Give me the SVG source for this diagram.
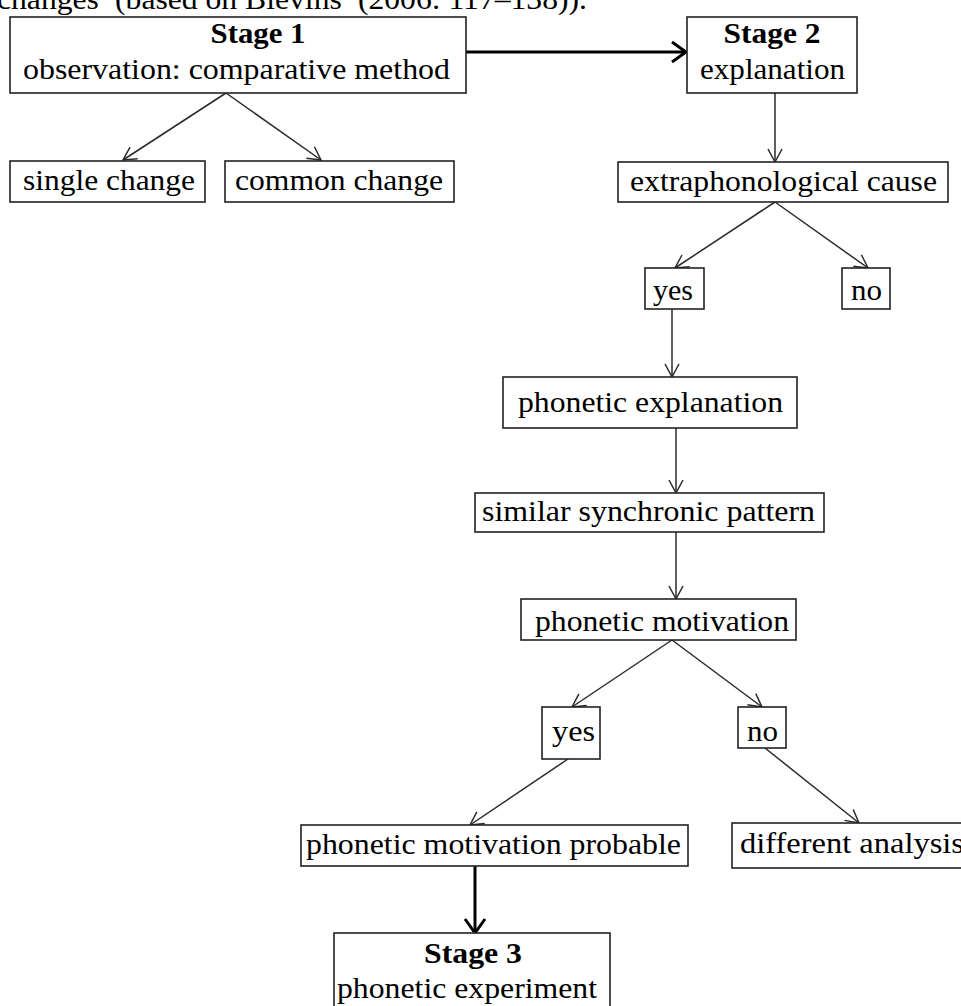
<svg xmlns="http://www.w3.org/2000/svg" width="961" height="1006" viewBox="0 0 961 1006">
<style>
text{font-family:"Liberation Serif","Times New Roman",serif;font-size:30px;fill:#000}
.b{font-weight:bold}
.c{text-anchor:middle}
.box{fill:#fff;stroke:#222;stroke-width:1.6}
.thin{stroke:#2a2a2a;stroke-width:1.5;fill:none;marker-end:url(#ah)}
.thick{stroke:#000;stroke-width:3;fill:none;marker-end:url(#ahb)}
</style>
<defs>
<marker id="ah" markerUnits="userSpaceOnUse" viewBox="-1 -1 18 18" refX="15" refY="8" markerWidth="18" markerHeight="18" orient="auto">
<path d="M2,1 L15,8 L2,15" fill="none" stroke="#2a2a2a" stroke-width="1.5"/>
</marker>
<marker id="ahb" markerUnits="userSpaceOnUse" viewBox="-2 -2 22 24" refX="16" refY="10" markerWidth="22" markerHeight="24" orient="auto">
<path d="M2,0 L16,10 L2,20" fill="none" stroke="#000" stroke-width="3"/>
</marker>
</defs>
<text x="-3" y="9" textLength="590" lengthAdjust="spacingAndGlyphs">changes’ (based on Blevins’ (2006: 117–138)).</text>
<g id="connectors">
<line class="thick" x1="466" y1="52" x2="686" y2="52"/>
<line class="thin" x1="226" y1="93" x2="123" y2="160"/>
<line class="thin" x1="226" y1="93" x2="321" y2="160"/>
<line class="thin" x1="775" y1="93" x2="775" y2="162"/>
<line class="thin" x1="775" y1="202" x2="675" y2="268"/>
<line class="thin" x1="775" y1="202" x2="868" y2="268"/>
<line class="thin" x1="672" y1="309" x2="672" y2="377"/>
<line class="thin" x1="676" y1="428" x2="676" y2="493"/>
<line class="thin" x1="676" y1="532" x2="676" y2="599"/>
<line class="thin" x1="672" y1="640" x2="572" y2="707"/>
<line class="thin" x1="672" y1="640" x2="762" y2="707"/>
<line class="thin" x1="568" y1="759" x2="470" y2="825"/>
<line class="thin" x1="765" y1="748" x2="859" y2="823"/>
<line class="thick" x1="475" y1="866" x2="475" y2="933"/>
</g>
<g id="stage1">
<rect class="box" x="10" y="17" width="456" height="76"/>
<text class="b c" x="258" y="43" textLength="95" lengthAdjust="spacingAndGlyphs">Stage 1</text>
<text x="23" y="79" textLength="427" lengthAdjust="spacingAndGlyphs">observation: comparative method</text>
</g>
<g id="stage2">
<rect class="box" x="687" y="17" width="170" height="76"/>
<text class="b c" x="772" y="43" textLength="97" lengthAdjust="spacingAndGlyphs">Stage 2</text>
<text x="700" y="79" textLength="145" lengthAdjust="spacingAndGlyphs">explanation</text>
</g>
<g id="single-change">
<rect class="box" x="10" y="161" width="195" height="41"/>
<text x="23" y="190" textLength="172" lengthAdjust="spacingAndGlyphs">single change</text>
</g>
<g id="common-change">
<rect class="box" x="225" y="161" width="229" height="41"/>
<text x="235" y="190" textLength="208" lengthAdjust="spacingAndGlyphs">common change</text>
</g>
<g id="extraphonological-cause">
<rect class="box" x="618" y="162" width="330" height="40"/>
<text x="630" y="191" textLength="307" lengthAdjust="spacingAndGlyphs">extraphonological cause</text>
</g>
<g id="yes1">
<rect class="box" x="645" y="268" width="59" height="41"/>
<text x="653" y="300" textLength="40" lengthAdjust="spacingAndGlyphs">yes</text>
</g>
<g id="no1">
<rect class="box" x="842" y="268" width="48" height="41"/>
<text x="851" y="300" textLength="31" lengthAdjust="spacingAndGlyphs">no</text>
</g>
<g id="phonetic-explanation">
<rect class="box" x="503" y="377" width="294" height="51"/>
<text x="518" y="412" textLength="265" lengthAdjust="spacingAndGlyphs">phonetic explanation</text>
</g>
<g id="similar-synchronic-pattern">
<rect class="box" x="475" y="493" width="349" height="39"/>
<text x="482" y="521" textLength="333" lengthAdjust="spacingAndGlyphs">similar synchronic pattern</text>
</g>
<g id="phonetic-motivation">
<rect class="box" x="521" y="599" width="275" height="41"/>
<text x="535" y="631" textLength="254" lengthAdjust="spacingAndGlyphs">phonetic motivation</text>
</g>
<g id="yes2">
<rect class="box" x="542" y="707" width="58" height="52"/>
<text x="552" y="741" textLength="43" lengthAdjust="spacingAndGlyphs">yes</text>
</g>
<g id="no2">
<rect class="box" x="738" y="707" width="48" height="41"/>
<text x="747" y="741" textLength="31" lengthAdjust="spacingAndGlyphs">no</text>
</g>
<g id="phonetic-motivation-probable">
<rect class="box" x="301" y="825" width="387" height="41"/>
<text x="306" y="854" textLength="375" lengthAdjust="spacingAndGlyphs">phonetic motivation probable</text>
</g>
<g id="different-analysis">
<rect class="box" x="732" y="823" width="240" height="45"/>
<text x="740" y="853" textLength="224" lengthAdjust="spacingAndGlyphs">different analysis</text>
</g>
<g id="stage3">
<rect class="box" x="334" y="933" width="276" height="90"/>
<text class="b c" x="473" y="963" textLength="98" lengthAdjust="spacingAndGlyphs">Stage 3</text>
<text x="337" y="998" textLength="260" lengthAdjust="spacingAndGlyphs">phonetic experiment</text>
</g>
</svg>
